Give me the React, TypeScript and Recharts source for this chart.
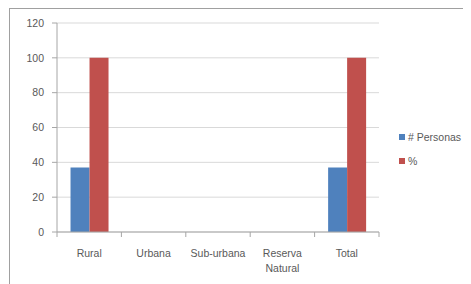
import React from "react";
import { BarChart, Bar, XAxis, YAxis, CartesianGrid, Legend, Text } from "recharts";

const categories = ["Rural", "Urbana", "Sub-urbana", "Reserva Natural", "Total"];
const personas = [37, 0, 0, 0, 37];
const porcentaje = [100, 0, 0, 0, 100];
const yTicks = [0, 20, 40, 60, 80, 100, 120];
const seriesNames = ["# Personas", "%"];
const seriesColors = ["#4F81BD", "#C0504D"];

const data = categories.map((c, i) => ({ name: c, personas: personas[i], pct: porcentaje[i] }));

const W = 463;
const H = 276;
const M = { top: 15, right: 92, bottom: 0, left: 0 };
const YW = 49;
const XH = 52;
const plotW = W - M.left - M.right - YW;
const band = plotW / categories.length;
const TEXT = "#595959";
const AXIS = "#A6A6A6";
const FONT = "'Liberation Sans', Arial, sans-serif";

const XTick = (props: any) => {
  const { x, y, payload, index } = props;
  const last = index === categories.length - 1;
  return (
    <g>
      <line x1={x - band / 2} x2={x - band / 2} y1={y - 8} y2={y - 3} stroke={AXIS} />
      {last && <line x1={x + band / 2} x2={x + band / 2} y1={y - 8} y2={y - 3} stroke={AXIS} />}
      <Text x={x} y={y + 10} width={62} textAnchor="middle" verticalAnchor="start" fill={TEXT} fontSize={10.5} fontFamily={FONT} lineHeight={15}>
        {payload.value}
      </Text>
    </g>
  );
};

const LegendContent = () => (
  <div style={{ fontFamily: FONT, fontSize: 10.5, color: TEXT }}>
    {seriesNames.map((n, i) => (
      <div key={n} style={{ display: "flex", alignItems: "center", height: 24 }}>
        <span style={{ display: "inline-block", width: 6, height: 6, background: seriesColors[i], marginRight: 3 }} />
        <span>{n}</span>
      </div>
    ))}
  </div>
);

export default function App() {
  return (
    <div style={{ position: "relative", width: W, height: H }}>
      <div style={{ position: "absolute", left: 1, top: 0, width: W, height: H, borderTop: "1.5px solid #A0A0A0", borderLeft: "1.5px solid #A0A0A0", boxSizing: "border-box" }} />
      <BarChart width={W} height={H} data={data} margin={M} barCategoryGap="21%" barGap={0}>
        <CartesianGrid vertical={false} stroke="#D9D9D9" />
        <XAxis dataKey="name" height={XH} interval={0} tickLine={false} axisLine={{ stroke: AXIS }} tick={<XTick />} />
        <YAxis width={YW} domain={[0, 120]} ticks={yTicks} interval={0} axisLine={{ stroke: AXIS }} tickLine={{ stroke: AXIS }} tickSize={5} tickMargin={8} tick={{ fill: TEXT, fontSize: 10.5, fontFamily: FONT }} />
        <Legend content={<LegendContent />} layout="horizontal" align="center" verticalAlign="middle" wrapperStyle={{ left: 391, top: 117, width: 72 }} />
        <Bar dataKey="personas" name={seriesNames[0]} fill={seriesColors[0]} isAnimationActive={false} />
        <Bar dataKey="pct" name={seriesNames[1]} fill={seriesColors[1]} isAnimationActive={false} />
      </BarChart>
    </div>
  );
}
